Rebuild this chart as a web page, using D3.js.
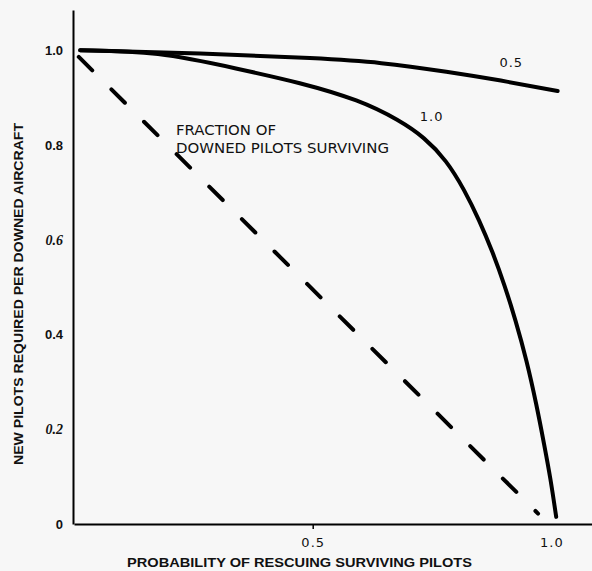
<!DOCTYPE html>
<html>
<head>
<meta charset="utf-8">
<script src="https://cdn.jsdelivr.net/npm/d3@7"></script>
<style>
  html, body { margin: 0; padding: 0; background: #f7f7f7; }
  svg { display: block; }
</style>
</head>
<body>
<div id="chart"></div>
<script>

// curve for fraction of downed pilots surviving = 0.5
const curveHalfX = [0.013, 0.264, 0.515, 0.640, 0.787, 0.891, 1.013];
const curveHalfY = [1.000, 0.994, 0.983, 0.975, 0.954, 0.937, 0.914];

// curve for fraction surviving = 1.0
const curveOneX = [0.013, 0.174, 0.347, 0.473, 0.598, 0.682, 0.734, 0.780, 0.818, 0.849, 0.877, 0.902, 0.925, 0.948, 0.969, 0.985, 0.998, 1.010];
const curveOneY = [1.000, 0.998, 0.960, 0.932, 0.895, 0.852, 0.816, 0.768, 0.705, 0.641, 0.574, 0.504, 0.430, 0.346, 0.251, 0.167, 0.097, 0.015];

// dashed reference line
const dashedX = [0.010, 0.972];
const dashedY = [0.986, 0.022];

const yTicks = [0, 0.2, 0.4, 0.6, 0.8, 1.0];
const yTickLabels = ['0', '0.2', '0.4', '0.6', '0.8', '1.0'];
const xTicks = [0.5, 1.0];
const xTickLabels = ['0.5', '1.0'];

const curveLabels = ['0.5', '1.0'];
const curveLabelX = [0.916, 0.749];
const curveLabelY = [0.973, 0.859];

const noteLines = ['FRACTION OF', 'DOWNED PILOTS SURVIVING'];

const xTitle = 'PROBABILITY OF RESCUING SURVIVING PILOTS';
const yTitle = 'NEW PILOTS REQUIRED PER DOWNED AIRCRAFT';

const svgWidth = 592;
const svgHeight = 571;

const svg = d3.select('#chart')
    .append('svg')
    .attr('width', svgWidth)
    .attr('height', svgHeight);

svg.append('rect')
    .attr('width', svgWidth)
    .attr('height', svgHeight)
    .attr('fill', '#f7f7f7');

const xScale = d3.scaleLinear()
    .domain([0, 1.085])
    .range([74, svgWidth]);

const yScale = d3.scaleLinear()
    .domain([0, 1.085])
    .range([524, 10]);

const zip = (xs, ys) => xs.map((v, i) => ({ x: v, y: ys[i] }));

const line = d3.line()
    .x(d => xScale(d.x))
    .y(d => yScale(d.y))
    .curve(d3.curveBasis);

// y axis
const yAxisGroup = svg.append('g')
    .attr('transform', `translate(${xScale(0) - 1}, 0)`)
    .call(d3.axisLeft(yScale)
        .tickValues(yTicks)
        .tickSize(0)
        .tickPadding(10)
        .tickFormat((d, i) => yTickLabels[i]));

yAxisGroup.select('.domain')
    .attr('stroke', '#000')
    .attr('stroke-width', 2);

yAxisGroup.selectAll('text')
    .attr('fill', '#111')
    .style('font-family', '"Liberation Sans", Arial, sans-serif')
    .style('font-weight', 'bold')
    .style('font-size', '13px');

// the scan shows 0.6 and 0.2 in an italic serif face
yAxisGroup.selectAll('.tick')
    .filter(d => d === 0.6 || d === 0.2)
    .select('text')
    .style('font-family', '"Liberation Serif", "DejaVu Serif", serif')
    .style('font-style', 'italic')
    .style('font-weight', 'bold')
    .style('font-size', '14px');

// x axis
const xAxisGroup = svg.append('g')
    .attr('transform', `translate(0, ${yScale(0)})`)
    .call(d3.axisBottom(xScale)
        .tickValues(xTicks)
        .tickSizeOuter(0)
        .tickSizeInner(5)
        .tickPadding(9)
        .tickFormat((d, i) => xTickLabels[i]));

xAxisGroup.select('.domain')
    .attr('stroke', '#000')
    .attr('stroke-width', 2);

xAxisGroup.selectAll('.tick line')
    .attr('stroke', '#000')
    .attr('stroke-width', 1.5)
    .filter(d => d === 1.0)
    .remove();

xAxisGroup.selectAll('text')
    .attr('fill', '#111')
    .style('font-family', '"DejaVu Sans", sans-serif')
    .style('font-size', '13px')
    .style('letter-spacing', '1px');

// curves
svg.append('path')
    .datum(zip(curveHalfX, curveHalfY))
    .attr('d', line)
    .attr('fill', 'none')
    .attr('stroke', '#000')
    .attr('stroke-width', 4)
    .attr('stroke-linecap', 'round');

svg.append('path')
    .datum(zip(curveOneX, curveOneY))
    .attr('d', line)
    .attr('fill', 'none')
    .attr('stroke', '#000')
    .attr('stroke-width', 4)
    .attr('stroke-linecap', 'round');

svg.append('path')
    .datum(zip(dashedX, dashedY))
    .attr('d', d3.line().x(d => xScale(d.x)).y(d => yScale(d.y)))
    .attr('fill', 'none')
    .attr('stroke', '#000')
    .attr('stroke-width', 4)
    .attr('stroke-linecap', 'round')
    .attr('stroke-dasharray', '19,27');

// curve labels
svg.selectAll('.curve-label')
    .data(curveLabels)
    .join('text')
    .attr('class', 'curve-label')
    .attr('x', (d, i) => xScale(curveLabelX[i]))
    .attr('y', (d, i) => yScale(curveLabelY[i]))
    .attr('text-anchor', 'middle')
    .attr('dominant-baseline', 'middle')
    .attr('fill', '#111')
    .style('font-family', '"DejaVu Sans", sans-serif')
    .style('font-size', '13px')
    .style('letter-spacing', '1px')
    .text(d => d);

// annotation
const noteWidths = [100, 213];
svg.selectAll('.note')
    .data(noteLines)
    .join('text')
    .attr('class', 'note')
    .attr('x', 176)
    .attr('y', (d, i) => 135 + i * 18)
    .attr('textLength', (d, i) => noteWidths[i])
    .attr('lengthAdjust', 'spacingAndGlyphs')
    .attr('fill', '#111')
    .style('font-family', '"DejaVu Sans", sans-serif')
    .style('font-size', '14px')
    .text(d => d);

// axis titles
svg.append('text')
    .attr('x', 127)
    .attr('y', 567)
    .attr('textLength', 345)
    .attr('lengthAdjust', 'spacingAndGlyphs')
    .attr('fill', '#111')
    .style('font-family', '"Liberation Sans", Arial, sans-serif')
    .style('font-weight', 'bold')
    .style('font-size', '13px')
    .text(xTitle);

svg.append('text')
    .attr('transform', 'translate(23, 294) rotate(-90)')
    .attr('text-anchor', 'middle')
    .attr('textLength', 342)
    .attr('lengthAdjust', 'spacingAndGlyphs')
    .attr('fill', '#111')
    .style('font-family', '"Liberation Sans", Arial, sans-serif')
    .style('font-weight', 'bold')
    .style('font-size', '13px')
    .text(yTitle);

</script>
</body>
</html>
